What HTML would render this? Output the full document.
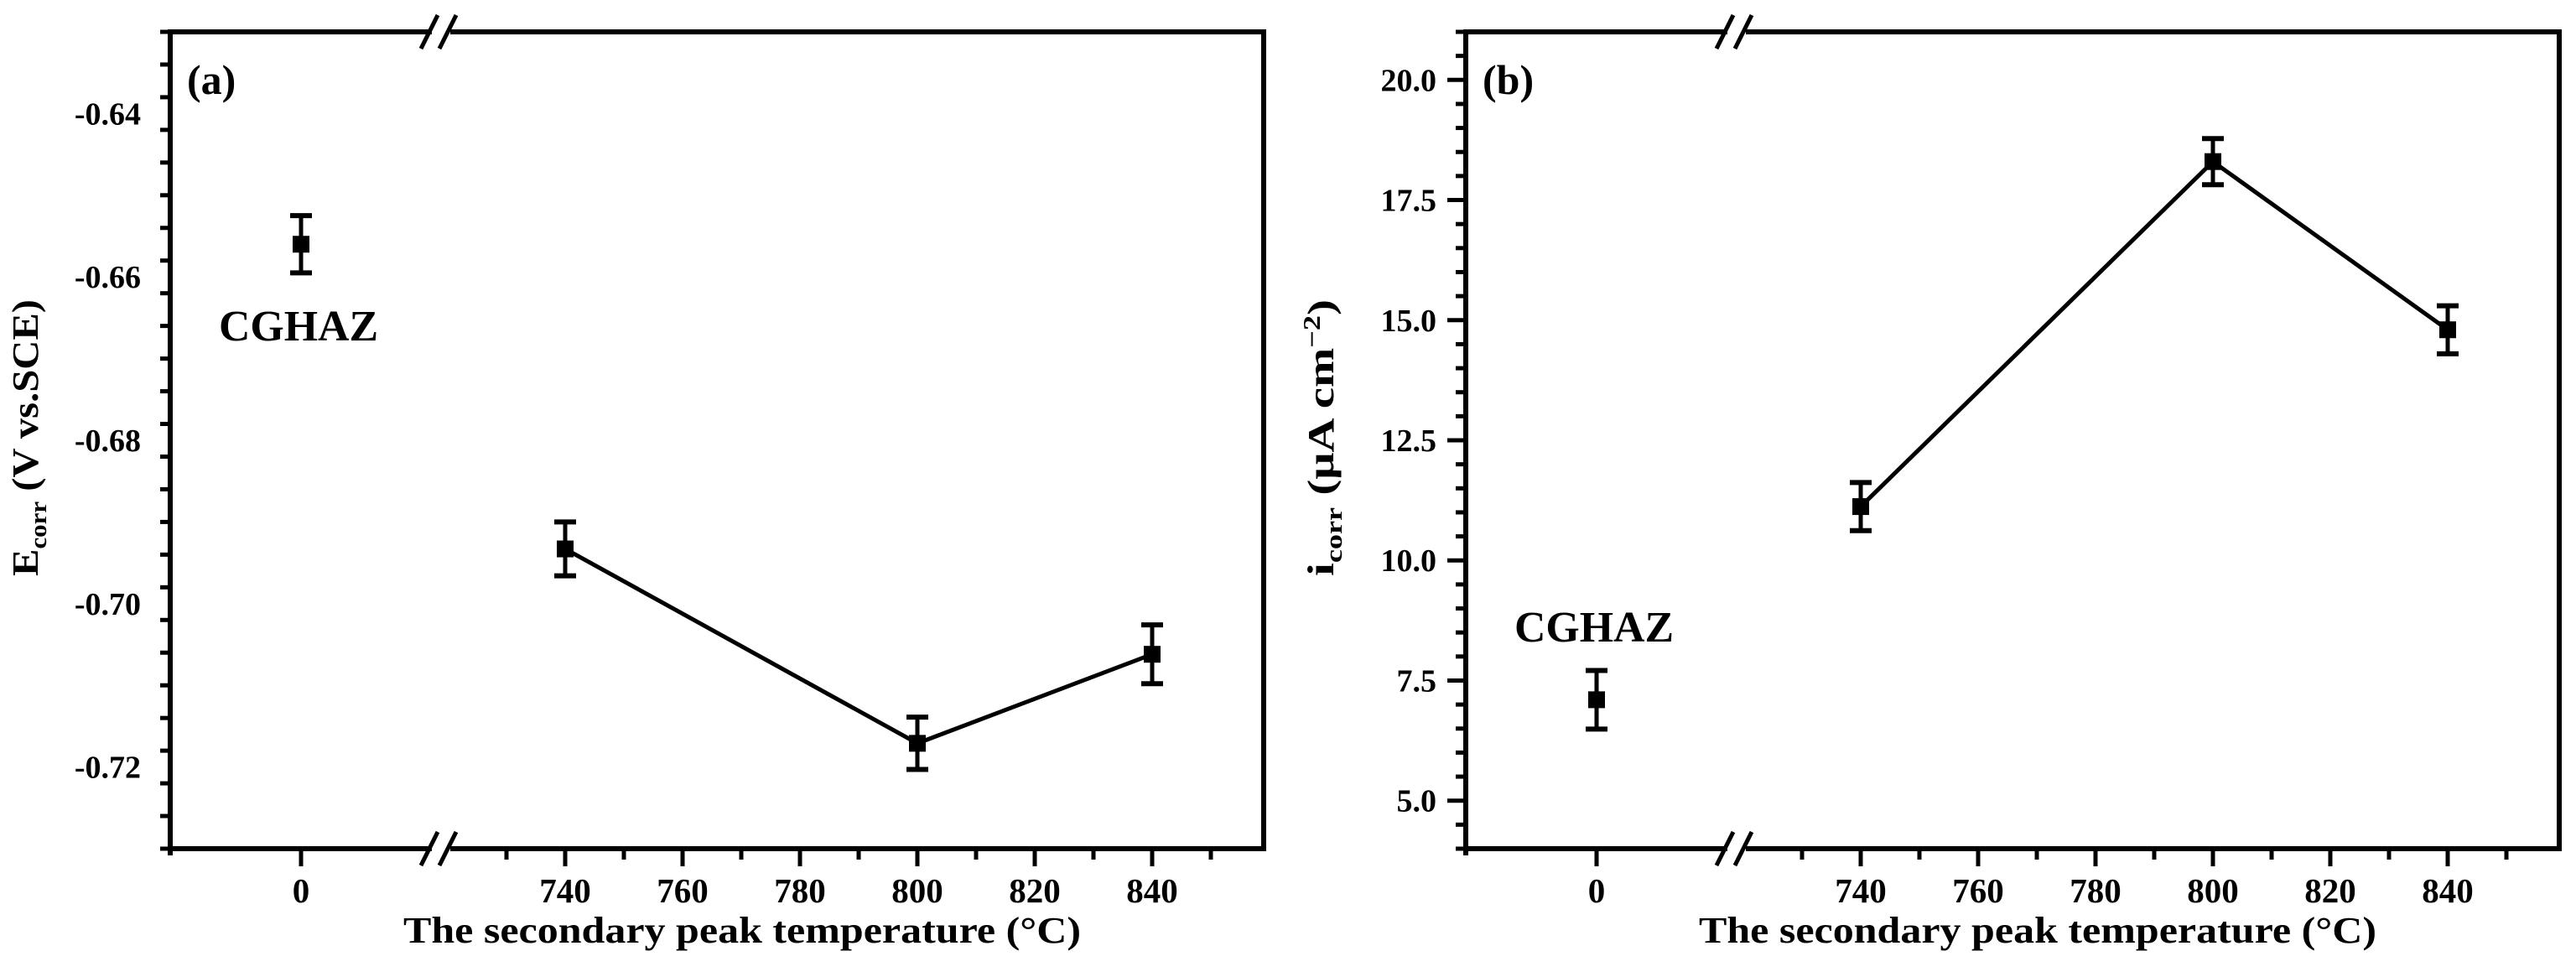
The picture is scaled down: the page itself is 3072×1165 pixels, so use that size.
<!DOCTYPE html>
<html><head><meta charset="utf-8"><style>
html,body{margin:0;padding:0;background:#fff}
svg{display:block}
text{font-family:"Liberation Serif",serif;font-weight:bold;fill:#000}
</style></head><body>
<svg id="chart" width="3072" height="1165" viewBox="0 0 3072 1165" xmlns="http://www.w3.org/2000/svg"></svg>
<script>
// shared categories
const xCats = [0, 740, 800, 840];
const xTickLabels = ["0", "740", "760", "780", "800", "820", "840"];
const xMajorTicks = [740, 760, 780, 800, 820, 840];
const xMinorTicks = [730, 750, 770, 790, 810, 830, 850];
// panel a
const ecorrValues = [-0.656, -0.6933, -0.7171, -0.7062];
const ecorrErrors = [0.0035, 0.0033, 0.0032, 0.0036];
const ecorrTickLabels = ["-0.64", "-0.66", "-0.68", "-0.70", "-0.72"];
const ecorrTicks = [-0.64, -0.66, -0.68, -0.70, -0.72];
// panel b
const icorrValues = [7.1, 11.12, 18.3, 14.8];
const icorrErrors = [0.61, 0.5, 0.48, 0.5];
const icorrTickLabels = ["5.0", "7.5", "10.0", "12.5", "15.0", "17.5", "20.0"];
const icorrTicks = [5.0, 7.5, 10.0, 12.5, 15.0, 17.5, 20.0];

const NS = "http://www.w3.org/2000/svg";
const svg = document.getElementById("chart");
function mk(tag, attrs, parent, txt) {
  const e = document.createElementNS(NS, tag);
  for (const k in attrs) e.setAttribute(k, attrs[k]);
  if (txt !== undefined) e.textContent = txt;
  (parent || svg).appendChild(e);
  return e;
}

function panel(cfg) {
  const g = mk("g", {});
  
  
  const L = cfg.left, R = cfg.left + 1304, T = 38, B = 1012;
  const brk = cfg.left + 322;
  const xs = v => v === 0 ? cfg.left + 156 : (cfg.left + 471 + (v - 740) * 7);
  const ys = v => B - (v - cfg.ymin) / (cfg.ymax - cfg.ymin) * (B - T);

  const axes = mk("g", {stroke: "#000", "stroke-width": 6, fill: "none"}, g);
  
  
  mk("line", {x1: L, y1: T - 3, x2: L, y2: B + 8}, axes);
  mk("line", {x1: R, y1: T - 3, x2: R, y2: B + 3}, axes);
  mk("line", {x1: L - 3, y1: T, x2: brk - 10, y2: T}, axes);
  mk("line", {x1: brk + 12, y1: T, x2: R + 3, y2: T}, axes);
  mk("line", {x1: L - 3, y1: B, x2: brk - 10, y2: B}, axes);
  mk("line", {x1: brk + 12, y1: B, x2: R + 3, y2: B}, axes);
  [T, B].forEach(yy => {
    const bm = mk("g", {stroke: "#000", "stroke-width": 5}, g);
    
    
    mk("line", {x1: brk - 23, y1: yy + 20, x2: brk - 3, y2: yy - 20}, bm);
    mk("line", {x1: brk - 1, y1: yy + 20, x2: brk + 19, y2: yy - 20}, bm);
  });

  const xt = mk("g", {stroke: "#000", "stroke-width": 5}, g);
  
  
  [0].concat(xMajorTicks).forEach(v => mk("line", {x1: xs(v), y1: B, x2: xs(v), y2: B + 21}, xt));
  xMinorTicks.forEach(v => mk("line", {x1: xs(v), y1: B, x2: xs(v), y2: B + 13}, xt));
  [0].concat(xMajorTicks).forEach((v, i) => {
    const t = mk("text", {x: xs(v), y: 1076, "font-size": 41, "text-anchor": "middle"}, g, xTickLabels[i]);
    
    
  });
  const xl = mk("text", {x: cfg.left + 682, y: 1124, "font-size": 44, "text-anchor": "middle", textLength: 808, lengthAdjust: "spacingAndGlyphs"}, g, "The secondary peak temperature (°C)");
  
  

  const yt = mk("g", {stroke: "#000", "stroke-width": 5}, g);
  
  
  for (let v = cfg.ymin; v <= cfg.ymax + 1e-9; v += cfg.minor) {
    const isMaj = cfg.ticks.some(t => Math.abs(t - v) < cfg.minor / 10);
    mk("line", {x1: L - (isMaj ? 22 : 12), y1: ys(v), x2: L, y2: ys(v)}, yt);
  }
  cfg.ticks.forEach((v, i) => {
    const t = mk("text", {x: L - 35, y: ys(v) + 13, "font-size": 38, "text-anchor": "end"}, g, cfg.tickLabels[i]);
    
    
  });
  const ytl = mk("text", {transform: `translate(${cfg.left - 158},522) rotate(-90)`, "font-size": 44, "text-anchor": "middle", textLength: 330, lengthAdjust: "spacingAndGlyphs"}, g);
  
  
  mk("tspan", {}, ytl, cfg.ytitle[0]);
  mk("tspan", {"font-size": 28, dy: 10}, ytl, "corr");
  mk("tspan", {dy: -10}, ytl, cfg.ytitle[1]);
  if (cfg.ytitle[2]) {
    mk("tspan", {"font-size": 28, dy: -16}, ytl, cfg.ytitle[2]);
    mk("tspan", {dy: 16}, ytl, ")");
  }

  const pl = mk("text", {x: cfg.left + 20, y: 112, "font-size": 50}, g, cfg.label);
  
  
  const cg = mk("text", {x: xs(0) - 3, y: cfg.cgY, "font-size": 52, "text-anchor": "middle", textLength: 190, lengthAdjust: "spacingAndGlyphs"}, g, "CGHAZ");
  
  

  const pts = xCats.slice(1).map((c, i) => xs(c) + "," + ys(cfg.vals[i + 1])).join(" ");
  const ln = mk("polyline", {points: pts, fill: "none", stroke: "#000", "stroke-width": 5}, g);
  
  

  xCats.forEach((c, i) => {
    const pg = mk("g", {stroke: "#000", "stroke-width": 5}, g);
    
    
    const x = xs(c), y0 = ys(cfg.vals[i] + cfg.errs[i]), y1 = ys(cfg.vals[i] - cfg.errs[i]);
    mk("line", {x1: x, y1: y0, x2: x, y2: y1}, pg);
    mk("line", {x1: x - 13, y1: y0, x2: x + 13, y2: y0, "stroke-width": 6}, pg);
    mk("line", {x1: x - 13, y1: y1, x2: x + 13, y2: y1, "stroke-width": 6}, pg);
    mk("rect", {x: x - 10, y: ys(cfg.vals[i]) - 10, width: 20, height: 20, fill: "#000", stroke: "none"}, pg);
  });
}

panel({name: "panel-a-ecorr", left: 203, ymin: -0.73, ymax: -0.63, minor: 0.004,
  ticks: ecorrTicks, tickLabels: ecorrTickLabels, vals: ecorrValues, errs: ecorrErrors,
  label: "(a)", cgY: 406, ytitle: ["E", " (V vs.SCE)"]});
panel({name: "panel-b-icorr", left: 1748, ymin: 4, ymax: 21, minor: 0.5,
  ticks: icorrTicks, tickLabels: icorrTickLabels, vals: icorrValues, errs: icorrErrors,
  label: "(b)", cgY: 765, ytitle: ["i", "  (μA cm", "−2"]});
</script>
</body></html>
